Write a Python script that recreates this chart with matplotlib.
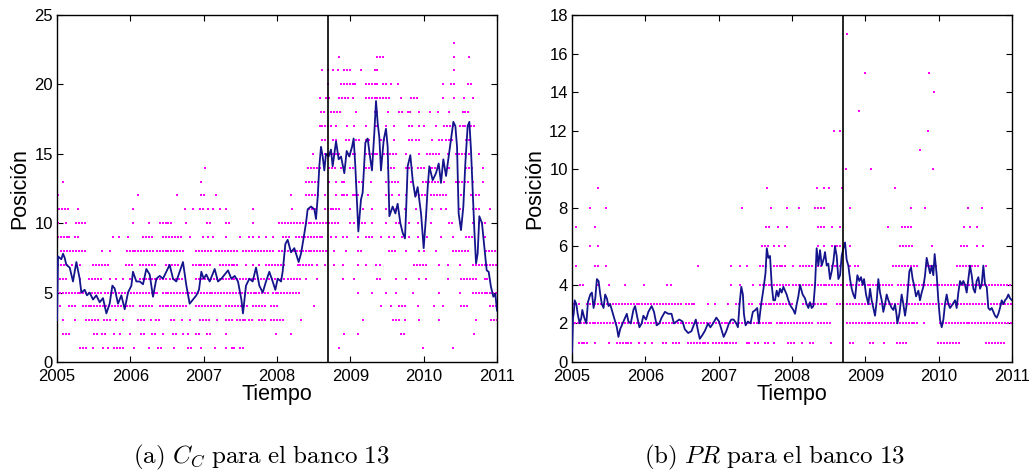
import numpy as np
import matplotlib
matplotlib.use("Agg")
import matplotlib.pyplot as plt

plt.rcParams['font.family'] = ['Liberation Sans', 'DejaVu Sans']
plt.rcParams['mathtext.fontset'] = 'cm'

# ---------- data ----------

CRISIS = 2008.70  # vertical marker (Sep 2008)

# moving average of the position, panel (a) C_C
cc_t = [2005.000, 2005.014, 2005.059, 2005.082, 2005.105, 2005.127, 2005.173, 2005.195, 2005.218, 2005.264,
        2005.309, 2005.332, 2005.377, 2005.409, 2005.445, 2005.491, 2005.536, 2005.582, 2005.627, 2005.673,
        2005.718, 2005.755, 2005.786, 2005.832, 2005.877, 2005.923, 2005.968, 2006.014, 2006.036, 2006.082,
        2006.127, 2006.173, 2006.218, 2006.264, 2006.309, 2006.355, 2006.400, 2006.445, 2006.491, 2006.536,
        2006.582, 2006.627, 2006.673, 2006.718, 2006.764, 2006.809, 2006.855, 2006.900, 2006.936, 2006.968,
        2007.000, 2007.036, 2007.082, 2007.150, 2007.195, 2007.241, 2007.286, 2007.332, 2007.377, 2007.423,
        2007.468, 2007.514, 2007.536, 2007.577, 2007.623, 2007.668, 2007.714, 2007.759, 2007.805, 2007.850,
        2007.895, 2007.941, 2007.977, 2008.009, 2008.055, 2008.077, 2008.114, 2008.145, 2008.191, 2008.236,
        2008.259, 2008.295, 2008.327, 2008.359, 2008.395, 2008.418, 2008.464, 2008.509, 2008.532, 2008.555,
        2008.577, 2008.600, 2008.623, 2008.645, 2008.668, 2008.704, 2008.736, 2008.759, 2008.805, 2008.841,
        2008.873, 2008.918, 2008.950, 2008.986, 2009.023, 2009.045, 2009.068, 2009.109, 2009.145, 2009.168,
        2009.205, 2009.236, 2009.273, 2009.295, 2009.327, 2009.350, 2009.373, 2009.395, 2009.418, 2009.455,
        2009.486, 2009.509, 2009.532, 2009.577, 2009.614, 2009.645, 2009.682, 2009.714, 2009.745, 2009.759,
        2009.782, 2009.818, 2009.850, 2009.886, 2009.918, 2009.964, 2010.000, 2010.032, 2010.055, 2010.077,
        2010.123, 2010.168, 2010.205, 2010.236, 2010.268, 2010.305, 2010.341, 2010.373, 2010.405, 2010.432,
        2010.455, 2010.477, 2010.509, 2010.541, 2010.568, 2010.600, 2010.623, 2010.645, 2010.668, 2010.691,
        2010.714, 2010.736, 2010.759, 2010.795, 2010.827, 2010.859, 2010.886, 2010.918, 2010.950, 2010.977,
        2011.000]
cc_avg = [3.0, 7.6, 7.4, 7.8, 7.5, 7.0, 6.8, 6.3, 5.8, 7.2,
          6.0, 5.0, 5.2, 4.8, 5.0, 4.5, 4.8, 4.3, 4.6, 3.5,
          4.2, 5.5, 5.3, 4.2, 4.8, 3.8, 5.0, 5.5, 6.5, 5.8,
          5.8, 5.6, 6.7, 6.3, 4.7, 6.0, 6.2, 6.0, 6.5, 7.0,
          6.0, 5.8, 6.5, 7.2, 5.5, 4.2, 4.5, 4.8, 5.2, 6.5,
          6.0, 6.3, 5.8, 6.7, 5.8, 6.0, 6.3, 6.6, 6.0, 6.2,
          5.8, 4.5, 3.5, 5.5, 6.0, 5.8, 6.8, 5.5, 5.0, 5.8,
          6.5, 5.8, 5.2, 6.0, 5.8, 6.5, 8.5, 8.8, 7.9, 8.2,
          7.8, 7.2, 7.8, 8.8, 10.0, 11.0, 11.2, 11.0, 10.3, 11.9,
          14.1, 15.5, 14.8, 13.8, 15.0, 14.8, 15.3, 14.1, 15.9, 14.6,
          14.8, 13.6, 15.2, 14.8, 15.5, 16.1, 14.1, 9.4, 11.7, 12.2,
          15.8, 16.1, 14.6, 13.8, 16.5, 18.8, 17.2, 16.2, 13.8, 16.0,
          16.8, 15.5, 10.5, 11.2, 10.7, 11.4, 10.0, 9.3, 8.9, 10.7,
          14.1, 14.9, 13.1, 11.9, 12.6, 10.7, 8.2, 10.5, 12.6, 14.1,
          13.1, 13.6, 14.3, 12.9, 14.6, 13.4, 14.8, 16.0, 17.3, 17.0,
          15.5, 10.7, 9.5, 11.2, 14.3, 17.0, 17.3, 15.3, 12.4, 9.5,
          7.1, 7.8, 10.5, 10.0, 8.3, 6.6, 6.5, 5.4, 4.7, 4.9,
          3.7]

# observed positions, panel (a): level -> runs of dates (start, end) where dots appear
cc_runs = {
    1: [(2005.31, 2005.35), (2005.40, 2005.40), (2005.49, 2005.49), (2005.63, 2005.63), (2005.70, 2005.70),
        (2005.78, 2005.92), (2006.05, 2006.05), (2006.25, 2006.25), (2006.38, 2006.45), (2006.60, 2006.60),
        (2006.78, 2006.78), (2006.83, 2006.83), (2006.97, 2007.00), (2007.15, 2007.15), (2007.30, 2007.30),
        (2007.38, 2007.42), (2007.49, 2007.53), (2008.85, 2008.85), (2009.99, 2009.99), (2010.40, 2010.40)],
    2: [(2005.08, 2005.19), (2005.50, 2005.55), (2005.62, 2005.67), (2005.78, 2005.78), (2005.86, 2005.86),
        (2006.00, 2006.00), (2006.15, 2006.22), (2006.30, 2006.36), (2006.45, 2006.45), (2006.58, 2006.62),
        (2006.72, 2006.72), (2006.78, 2006.78), (2006.90, 2006.97), (2007.05, 2007.12), (2007.30, 2007.30),
        (2007.99, 2007.99), (2008.19, 2008.19), (2008.92, 2008.92), (2009.10, 2009.10), (2009.69, 2009.74),
        (2010.69, 2010.69)],
    3: [(2005.00, 2005.00), (2005.08, 2005.08), (2005.24, 2005.24), (2005.40, 2005.58), (2005.64, 2005.72),
        (2005.80, 2005.80), (2005.90, 2005.90), (2006.10, 2006.20), (2006.28, 2006.28), (2006.35, 2006.42),
        (2006.55, 2006.62), (2006.70, 2006.70), (2006.82, 2006.82), (2006.95, 2007.10), (2007.18, 2007.18),
        (2007.30, 2007.38), (2007.45, 2007.57), (2007.62, 2007.69), (2007.76, 2007.85), (2007.92, 2008.10),
        (2008.33, 2008.33), (2009.17, 2009.17), (2009.58, 2009.62), (2009.67, 2009.67), (2009.74, 2009.74),
        (2009.94, 2009.94), (2010.21, 2010.21), (2010.71, 2010.71), (2010.92, 2011.00)],
    4: [(2005.04, 2005.04), (2005.17, 2005.26), (2005.35, 2006.04), (2006.13, 2006.31), (2006.40, 2006.76),
        (2006.90, 2007.22), (2007.31, 2007.60), (2007.67, 2007.83), (2007.92, 2008.01), (2008.51, 2008.51),
        (2009.42, 2009.42), (2009.55, 2009.55), (2009.67, 2009.76), (2009.92, 2009.92), (2010.14, 2010.14),
        (2010.26, 2010.26), (2010.51, 2010.62), (2010.90, 2011.00)],
    5: [(2005.00, 2005.60), (2005.65, 2006.40), (2006.44, 2007.90), (2007.94, 2008.30), (2009.10, 2009.10),
        (2009.30, 2009.30), (2009.49, 2009.49), (2009.62, 2009.62), (2009.85, 2009.85), (2010.21, 2010.21),
        (2010.49, 2010.49), (2010.67, 2011.00)],
    6: [(2005.04, 2005.13), (2005.31, 2005.31), (2005.44, 2005.63), (2005.72, 2005.72), (2005.80, 2005.80),
        (2005.90, 2005.90), (2006.00, 2006.00), (2006.13, 2006.49), (2006.54, 2006.72), (2006.90, 2007.83),
        (2007.89, 2008.10), (2008.15, 2008.33), (2008.40, 2008.40), (2008.55, 2008.55), (2008.90, 2008.90),
        (2009.05, 2009.05), (2009.37, 2009.44), (2009.62, 2009.62), (2009.76, 2009.76), (2009.94, 2009.94),
        (2010.03, 2010.03), (2010.33, 2010.33), (2010.51, 2010.74), (2010.83, 2010.90)],
    7: [(2005.01, 2005.13), (2005.20, 2005.20), (2005.31, 2005.31), (2005.49, 2005.72), (2005.94, 2006.04),
        (2006.13, 2006.36), (2006.49, 2006.67), (2006.85, 2007.12), (2007.22, 2007.49), (2007.58, 2007.58),
        (2007.67, 2007.67), (2007.76, 2007.76), (2007.85, 2008.10), (2008.28, 2008.51), (2008.55, 2008.55),
        (2008.65, 2008.65), (2008.78, 2008.78), (2008.90, 2008.90), (2009.10, 2009.10), (2009.21, 2009.21),
        (2009.35, 2009.35), (2009.40, 2009.40), (2009.87, 2010.03), (2010.21, 2010.21), (2010.33, 2010.33),
        (2010.49, 2010.49), (2010.67, 2011.00)],
    8: [(2005.06, 2005.40), (2005.61, 2005.61), (2005.72, 2005.72), (2005.95, 2006.31), (2006.36, 2006.72),
        (2006.90, 2007.12), (2007.17, 2007.45), (2007.54, 2007.94), (2008.03, 2008.67), (2008.78, 2008.78),
        (2008.94, 2008.94), (2009.10, 2009.15), (2009.53, 2009.62), (2009.76, 2009.76), (2009.94, 2009.94),
        (2010.01, 2010.01), (2010.17, 2010.17), (2010.40, 2010.62), (2010.85, 2011.00)],
    9: [(2005.01, 2005.20), (2005.24, 2005.31), (2005.76, 2005.76), (2005.85, 2005.85), (2005.97, 2005.97),
        (2006.17, 2006.29), (2006.45, 2006.70), (2006.81, 2006.81), (2006.99, 2006.99), (2007.06, 2007.06),
        (2007.13, 2007.13), (2007.31, 2007.31), (2007.49, 2007.49), (2007.62, 2007.62), (2007.67, 2007.67),
        (2007.76, 2007.76), (2007.85, 2007.85), (2007.94, 2007.94), (2008.08, 2008.17), (2008.26, 2008.58),
        (2008.62, 2008.62), (2008.74, 2008.74), (2008.80, 2008.80), (2008.90, 2008.90), (2008.96, 2008.96),
        (2009.10, 2009.10), (2009.21, 2009.30), (2009.42, 2009.42), (2009.53, 2009.53), (2009.60, 2009.60),
        (2009.71, 2009.71), (2009.80, 2009.80), (2009.92, 2009.92), (2010.04, 2010.04), (2010.24, 2010.24),
        (2010.40, 2010.40), (2010.58, 2010.67), (2010.83, 2010.83)],
    10: [(2005.01, 2005.01), (2005.12, 2005.12), (2005.26, 2005.40), (2006.04, 2006.04), (2006.25, 2006.25),
         (2006.40, 2006.56), (2006.76, 2006.76), (2007.04, 2007.08), (2007.31, 2007.35), (2007.67, 2007.67),
         (2008.03, 2008.67), (2008.71, 2008.85), (2008.99, 2008.99), (2009.05, 2009.05), (2009.12, 2009.21),
         (2009.30, 2009.30), (2009.49, 2009.49), (2009.62, 2009.67), (2009.80, 2009.80), (2009.92, 2009.92),
         (2010.10, 2010.10), (2010.35, 2010.40), (2010.49, 2010.49), (2010.67, 2010.67), (2010.76, 2010.85)],
    11: [(2005.03, 2005.15), (2005.29, 2005.29), (2006.04, 2006.04), (2006.74, 2006.74), (2006.85, 2006.85),
         (2006.95, 2007.01), (2007.06, 2007.06), (2007.13, 2007.13), (2007.22, 2007.22), (2007.31, 2007.31),
         (2007.67, 2007.67), (2008.21, 2008.21), (2008.44, 2008.53), (2008.65, 2008.85), (2008.99, 2008.99),
         (2009.17, 2009.17), (2009.30, 2009.30), (2009.49, 2009.49), (2009.62, 2009.62), (2009.74, 2009.74),
         (2009.90, 2009.90), (2010.12, 2010.12), (2010.24, 2010.24), (2010.30, 2010.30), (2010.49, 2010.49),
         (2010.67, 2010.76), (2010.90, 2010.90)],
    12: [(2005.01, 2005.01), (2006.11, 2006.11), (2006.63, 2006.63), (2006.96, 2006.96), (2007.01, 2007.01),
         (2007.17, 2007.17), (2008.19, 2008.19), (2008.40, 2008.58), (2008.65, 2008.65), (2008.80, 2008.80),
         (2008.88, 2008.99), (2009.03, 2009.12), (2009.24, 2009.24), (2009.49, 2009.58), (2009.67, 2009.67),
         (2009.76, 2009.76), (2009.90, 2010.03), (2010.10, 2010.30), (2010.51, 2010.51), (2010.65, 2010.65),
         (2010.71, 2010.78)],
    13: [(2005.08, 2005.08), (2006.96, 2006.96), (2008.40, 2008.58), (2008.71, 2008.71), (2008.80, 2008.80),
         (2008.88, 2008.94), (2009.08, 2009.17), (2009.28, 2009.28), (2009.49, 2009.67), (2009.83, 2009.83),
         (2009.99, 2010.08), (2010.12, 2010.30), (2010.44, 2010.62), (2010.67, 2010.67), (2010.81, 2010.81)],
    14: [(2007.02, 2007.02), (2008.42, 2008.58), (2008.71, 2008.80), (2008.87, 2008.87), (2008.99, 2009.05),
         (2009.21, 2009.30), (2009.42, 2009.42), (2009.51, 2009.62), (2009.76, 2009.85), (2009.92, 2010.03),
         (2010.08, 2010.21), (2010.35, 2010.35), (2010.58, 2010.67), (2010.81, 2010.81)],
    15: [(2008.49, 2008.49), (2008.65, 2008.85), (2008.99, 2009.08), (2009.21, 2009.40), (2009.46, 2009.62),
         (2009.76, 2009.76), (2009.94, 2009.94), (2010.05, 2010.21), (2010.33, 2010.33), (2010.44, 2010.58),
         (2010.62, 2010.62), (2010.76, 2010.76)],
    16: [(2008.62, 2008.69), (2008.76, 2008.83), (2008.94, 2009.01), (2009.08, 2009.12), (2009.21, 2009.28),
         (2009.42, 2009.49), (2009.60, 2009.60), (2009.80, 2009.85), (2009.90, 2009.94), (2010.12, 2010.12),
         (2010.21, 2010.26), (2010.30, 2010.40), (2010.58, 2010.62)],
    17: [(2008.58, 2008.76), (2008.80, 2008.80), (2008.96, 2008.96), (2009.05, 2009.05), (2009.21, 2009.21),
         (2009.33, 2009.40), (2009.49, 2009.49), (2009.60, 2009.60), (2009.80, 2009.85), (2009.94, 2009.94),
         (2010.01, 2010.01), (2010.17, 2010.17), (2010.28, 2010.40), (2010.49, 2010.69)],
    18: [(2008.60, 2008.67), (2008.74, 2008.87), (2009.08, 2009.08), (2009.33, 2009.40), (2009.51, 2009.51),
         (2009.67, 2009.71), (2009.78, 2009.85), (2009.94, 2009.94), (2010.08, 2010.08), (2010.19, 2010.19),
         (2010.35, 2010.35), (2010.53, 2010.62)],
    19: [(2008.58, 2008.58), (2008.67, 2008.71), (2008.85, 2008.99), (2009.03, 2009.05), (2009.21, 2009.53),
         (2009.69, 2009.69), (2009.83, 2009.94), (2010.26, 2010.26), (2010.42, 2010.44), (2010.55, 2010.55),
         (2010.67, 2010.67)],
    20: [(2008.69, 2008.69), (2008.87, 2009.08), (2009.21, 2009.40), (2009.44, 2009.49), (2009.55, 2009.55),
         (2009.65, 2009.65), (2010.26, 2010.26), (2010.37, 2010.44), (2010.60, 2010.65)],
    21: [(2008.62, 2008.62), (2008.69, 2008.69), (2008.76, 2008.76), (2008.83, 2008.83), (2008.92, 2009.03),
         (2009.15, 2009.15), (2009.33, 2009.37), (2010.42, 2010.42)],
    22: [(2008.84, 2008.84), (2009.37, 2009.46), (2010.42, 2010.42), (2010.62, 2010.62)],
    23: [(2010.42, 2010.42)],
}

# moving average of the position, panel (b) PR
pr_t = [2005.000, 2005.014, 2005.023, 2005.036, 2005.059, 2005.077, 2005.104, 2005.127, 2005.140, 2005.167,
        2005.195, 2005.217, 2005.249, 2005.271, 2005.294, 2005.317, 2005.339, 2005.362, 2005.385, 2005.407,
        2005.430, 2005.452, 2005.475, 2005.498, 2005.520, 2005.543, 2005.575, 2005.611, 2005.633, 2005.656,
        2005.701, 2005.747, 2005.769, 2005.801, 2005.837, 2005.860, 2005.891, 2005.919, 2005.950, 2005.973,
        2006.009, 2006.041, 2006.086, 2006.118, 2006.154, 2006.190, 2006.222, 2006.267, 2006.312, 2006.357,
        2006.389, 2006.425, 2006.462, 2006.507, 2006.538, 2006.584, 2006.629, 2006.688, 2006.719, 2006.742,
        2006.778, 2006.810, 2006.855, 2006.887, 2006.923, 2006.968, 2007.005, 2007.036, 2007.068, 2007.104,
        2007.140, 2007.172, 2007.204, 2007.240, 2007.262, 2007.285, 2007.308, 2007.330, 2007.344, 2007.367,
        2007.398, 2007.434, 2007.466, 2007.502, 2007.525, 2007.548, 2007.579, 2007.611, 2007.638, 2007.656,
        2007.677, 2007.700, 2007.723, 2007.745, 2007.768, 2007.791, 2007.814, 2007.836, 2007.859, 2007.882,
        2007.905, 2007.927, 2007.950, 2007.982, 2008.018, 2008.041, 2008.064, 2008.086, 2008.109, 2008.145,
        2008.177, 2008.200, 2008.223, 2008.245, 2008.268, 2008.291, 2008.314, 2008.336, 2008.359, 2008.382,
        2008.405, 2008.436, 2008.450, 2008.473, 2008.495, 2008.518, 2008.541, 2008.564, 2008.586, 2008.609,
        2008.632, 2008.655, 2008.677, 2008.700, 2008.723, 2008.745, 2008.768, 2008.791, 2008.814, 2008.836,
        2008.859, 2008.891, 2008.918, 2008.941, 2008.964, 2008.982, 2009.009, 2009.041, 2009.064, 2009.086,
        2009.109, 2009.132, 2009.155, 2009.177, 2009.200, 2009.223, 2009.245, 2009.268, 2009.291, 2009.314,
        2009.336, 2009.359, 2009.382, 2009.405, 2009.427, 2009.436, 2009.464, 2009.495, 2009.518, 2009.541,
        2009.564, 2009.600, 2009.623, 2009.645, 2009.664, 2009.691, 2009.723, 2009.745, 2009.768, 2009.791,
        2009.814, 2009.836, 2009.859, 2009.882, 2009.905, 2009.927, 2009.945, 2009.973, 2009.995, 2010.018,
        2010.041, 2010.064, 2010.086, 2010.109, 2010.132, 2010.155, 2010.191, 2010.223, 2010.245, 2010.268,
        2010.291, 2010.314, 2010.336, 2010.359, 2010.382, 2010.405, 2010.427, 2010.450, 2010.473, 2010.495,
        2010.518, 2010.541, 2010.564, 2010.586, 2010.609, 2010.632, 2010.655, 2010.677, 2010.700, 2010.723,
        2010.745, 2010.768, 2010.791, 2010.814, 2010.836, 2010.859, 2010.882, 2010.905, 2010.927, 2010.950,
        2010.973, 2011.000]
pr_avg = [0.5, 2.3, 2.5, 3.2, 3.0, 2.5, 2.0, 2.3, 2.7, 2.3,
          2.0, 3.1, 3.5, 3.6, 2.8, 3.3, 4.3, 4.2, 3.5, 3.0,
          2.8, 3.5, 3.3, 2.9, 3.0, 2.7, 2.3, 1.8, 1.3, 1.7,
          2.1, 2.5, 2.1, 2.0, 2.7, 2.9, 2.3, 1.8, 2.0, 2.4,
          2.2, 2.6, 2.9, 2.6, 1.9, 2.0, 2.3, 2.6, 2.5, 2.5,
          2.0, 2.1, 2.2, 2.1, 1.7, 1.5, 1.6, 2.2, 1.6, 1.2,
          1.4, 1.6, 2.0, 1.8, 2.0, 2.3, 2.1, 1.7, 1.3, 1.6,
          2.0, 2.2, 2.2, 2.0, 1.8, 3.0, 3.9, 3.5, 2.5, 1.9,
          2.1, 2.0, 2.6, 2.7, 2.8, 2.0, 3.0, 3.8, 4.6, 5.9,
          5.4, 5.5, 4.0, 3.2, 3.2, 3.7, 3.4, 3.8, 3.6, 3.9,
          3.7, 3.5, 3.2, 2.9, 2.7, 2.5, 3.0, 3.4, 4.0, 3.5,
          3.3, 3.0, 2.8, 3.1, 2.8, 2.9, 4.0, 5.9, 5.0, 5.8,
          5.0, 5.4, 5.7, 5.0, 5.1, 4.3, 4.7, 5.2, 6.0, 5.5,
          4.3, 4.5, 5.5, 5.9, 6.2, 5.3, 5.0, 4.3, 3.8, 3.5,
          3.3, 4.5, 4.2, 4.4, 4.0, 4.3, 3.5, 3.0, 3.8, 3.2,
          2.8, 2.4, 3.2, 4.3, 3.6, 3.2, 2.6, 3.0, 3.5, 3.2,
          3.0, 2.8, 2.7, 3.0, 2.4, 2.0, 2.5, 3.5, 3.0, 2.4,
          3.0, 4.7, 4.9, 4.3, 4.0, 3.4, 3.7, 3.2, 3.6, 3.9,
          4.5, 5.4, 5.0, 4.6, 5.0, 4.5, 5.6, 4.5, 3.2, 2.2,
          1.8, 2.2, 3.0, 3.5, 3.0, 2.8, 3.0, 3.2, 2.8, 3.6,
          4.2, 4.0, 4.2, 4.0, 3.6, 4.3, 5.0, 4.5, 3.8, 3.6,
          4.2, 4.4, 3.8, 4.0, 5.0, 4.0, 3.9, 2.8, 2.7, 2.8,
          2.6, 2.4, 2.3, 2.5, 2.8, 3.2, 3.0, 3.2, 3.3, 3.5,
          3.3, 3.2]

# observed positions, panel (b)
pr_runs = {
    1: [(2005.00, 2005.00), (2005.09, 2005.23), (2005.32, 2005.32), (2005.50, 2005.50), (2005.61, 2005.84),
        (2005.91, 2005.91), (2006.00, 2006.00), (2006.09, 2006.09), (2006.24, 2006.30), (2006.38, 2006.47),
        (2006.58, 2006.88), (2006.92, 2007.24), (2007.38, 2007.45), (2007.50, 2007.56), (2007.63, 2007.69),
        (2007.76, 2007.76), (2007.95, 2008.06), (2008.13, 2008.13), (2008.25, 2008.29), (2008.53, 2008.53),
        (2008.79, 2008.86), (2009.06, 2009.13), (2009.25, 2009.25), (2009.43, 2009.56), (2009.99, 2010.11),
        (2010.16, 2010.29), (2010.65, 2010.90)],
    2: [(2005.00, 2007.75), (2007.79, 2008.29), (2008.36, 2008.54), (2008.75, 2009.74), (2009.80, 2009.80),
        (2010.02, 2011.00)],
    3: [(2005.02, 2005.11), (2005.20, 2006.50), (2006.55, 2006.70), (2006.85, 2006.85), (2006.95, 2006.95),
        (2007.13, 2007.13), (2007.24, 2007.28), (2007.42, 2007.47), (2007.56, 2008.02), (2008.15, 2008.47),
        (2008.61, 2008.70), (2008.75, 2009.11), (2009.20, 2009.47), (2009.56, 2010.06), (2010.11, 2011.00)],
    4: [(2005.11, 2005.16), (2005.36, 2005.36), (2005.50, 2005.50), (2005.72, 2005.72), (2005.98, 2005.98),
        (2006.29, 2006.29), (2006.35, 2006.35), (2007.17, 2007.17), (2007.29, 2007.29), (2007.47, 2007.47),
        (2007.56, 2007.97), (2008.02, 2008.11), (2008.15, 2008.70), (2008.75, 2009.16), (2009.20, 2009.38),
        (2009.45, 2011.00)],
    5: [(2005.06, 2005.06), (2005.32, 2005.38), (2005.47, 2005.47), (2006.72, 2006.72), (2007.17, 2007.17),
        (2007.29, 2007.32), (2007.38, 2007.38), (2007.56, 2007.65), (2007.75, 2007.93), (2008.02, 2008.02),
        (2008.11, 2008.29), (2008.36, 2008.43), (2008.54, 2008.68), (2008.79, 2008.79), (2008.86, 2008.93),
        (2009.38, 2009.70), (2009.84, 2009.97), (2010.25, 2010.56), (2010.65, 2010.65)],
    6: [(2005.24, 2005.24), (2005.35, 2005.35), (2007.59, 2007.68), (2007.75, 2007.75), (2007.82, 2007.82),
        (2007.90, 2007.90), (2008.36, 2008.36), (2008.43, 2008.43), (2008.54, 2008.68), (2008.79, 2008.79),
        (2009.47, 2009.65), (2009.91, 2009.91), (2010.31, 2010.41), (2010.52, 2010.52), (2010.61, 2010.61)],
    7: [(2005.06, 2005.06), (2005.32, 2005.32), (2007.64, 2007.70), (2007.81, 2007.81), (2007.93, 2007.93),
        (2008.36, 2008.47), (2008.54, 2008.54), (2008.65, 2008.65), (2009.31, 2009.31), (2009.50, 2009.63),
        (2010.34, 2010.34), (2010.43, 2010.43), (2010.52, 2010.52)],
    8: [(2005.25, 2005.25), (2005.47, 2005.47), (2007.32, 2007.32), (2007.71, 2007.71), (2007.93, 2007.93),
        (2008.09, 2008.09), (2008.31, 2008.43), (2008.79, 2008.79), (2009.62, 2009.62), (2009.81, 2009.81),
        (2010.40, 2010.40), (2010.59, 2010.59)],
    9: [(2005.36, 2005.36), (2007.66, 2007.66), (2008.34, 2008.34), (2008.43, 2008.43), (2008.50, 2008.50),
        (2008.68, 2008.68), (2009.40, 2009.40)],
    10: [(2008.74, 2008.74), (2009.08, 2009.08), (2009.92, 2009.92)],
    11: [(2009.75, 2009.75)],
    12: [(2008.57, 2008.57), (2008.66, 2008.66), (2009.85, 2009.85)],
    13: [(2008.91, 2008.91)],
    14: [(2009.94, 2009.96)],
    15: [(2009.00, 2009.00), (2009.87, 2009.87)],
    17: [(2008.75, 2008.75)],
    18: [(2009.15, 2009.15)],
}

years = [2005, 2006, 2007, 2008, 2009, 2010, 2011]
cc_yticks = [0, 5, 10, 15, 20, 25]
pr_yticks = [0, 2, 4, 6, 8, 10, 12, 14, 16, 18]

DOT_STEP = 0.04
LINE_COLOR = '#14148c'
DOT_COLOR = '#ff00ff'


def expand_runs(runs):
    xs, ys = [], []
    for level, spans in runs.items():
        for a, b in spans:
            pts = np.arange(a, b + 1e-9, DOT_STEP)
            xs.extend(pts)
            ys.extend([level] * len(pts))
    return np.array(xs), np.array(ys)


def draw_panel(ax, t, avg, runs, ymax, yticks):
    dx, dy = expand_runs(runs)
    ax.plot(dx, dy, linestyle='none', marker='s', markersize=1.6,
            markeredgewidth=0, color=DOT_COLOR, zorder=2)
    ax.plot(t, avg, color=LINE_COLOR, linewidth=1.3, zorder=3)
    ax.axvline(CRISIS, color='black', linewidth=1.2, zorder=4)
    ax.set_xlim(years[0], years[-1])
    ax.set_ylim(0, ymax)
    ax.set_xticks(years)
    ax.set_yticks(yticks)
    ax.tick_params(direction='in', top=True, right=True, length=4,
                   labelsize=12, width=0.8)
    ax.tick_params(axis='x', pad=5)
    ax.tick_params(axis='y', pad=3)
    for s in ax.spines.values():
        s.set_linewidth(1.0)
    ax.set_xlabel('Tiempo', fontsize=15.5, labelpad=0)
    ax.set_ylabel('Posición', fontsize=15.5, labelpad=3)


fig = plt.figure(figsize=(10.29, 4.72), dpi=100)
ax1 = fig.add_axes([0.0554, 0.2331, 0.4276, 0.7352])
ax2 = fig.add_axes([0.5559, 0.2331, 0.4276, 0.7352])

draw_panel(ax1, cc_t, cc_avg, cc_runs, 25, cc_yticks)
draw_panel(ax2, pr_t, pr_avg, pr_runs, 18, pr_yticks)

fig.text(0.2537, 0.019, r'$\mathrm{(a)}\ C_C\ \mathrm{para\ el\ banco\ 13}$',
         ha='center', va='baseline', fontsize=18)
fig.text(0.7526, 0.019, r'$\mathrm{(b)}\ PR\ \mathrm{para\ el\ banco\ 13}$',
         ha='center', va='baseline', fontsize=18)

fig.savefig('out.png', dpi=100)
